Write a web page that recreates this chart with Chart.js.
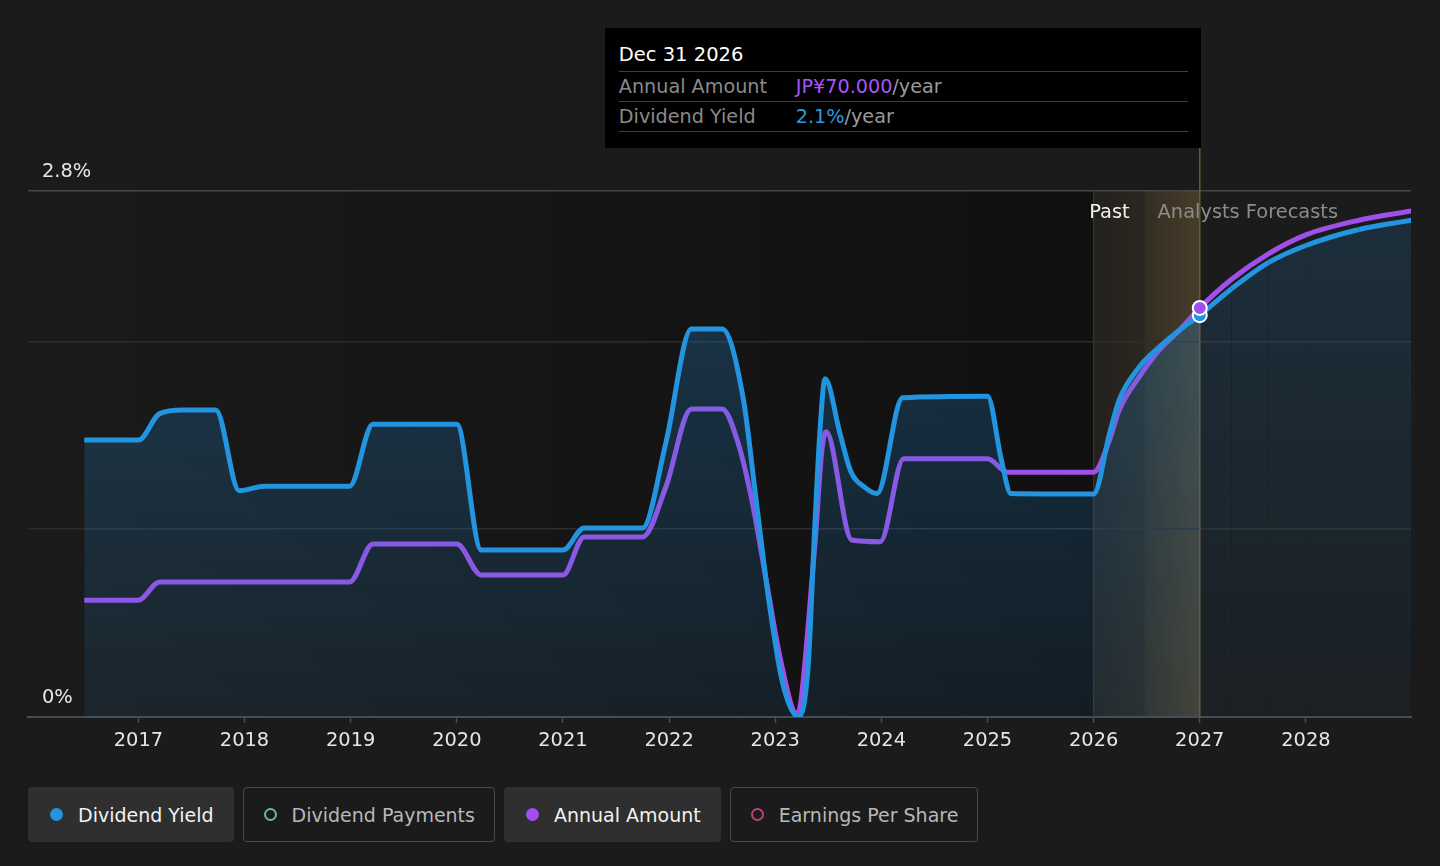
<!DOCTYPE html>
<html>
<head>
<meta charset="utf-8">
<script src="https://cdn.jsdelivr.net/npm/chart.js@4.4.1/dist/chart.umd.min.js"></script>
<style>
  html, body { margin: 0; padding: 0; background: #1b1b1b; width: 1440px; height: 866px; overflow: hidden; font-family: 'DejaVu Sans', sans-serif; }
  #wrap { position: absolute; left: 0; top: 0; width: 1440px; height: 770px; }
  #tip { position: absolute; top: 28px; width: 596px; height: 120px; background: #000; box-sizing: border-box; padding: 0 13px 0 14px; }
  #tip .title { padding-top: 10px; height: 33px; line-height: 33px; color: #fff; font-size: 19.5px; border-bottom: 1px solid #3e3e3e; }
  #tip .row { height: 29px; line-height: 29px; font-size: 19.2px; color: #8a8a8a; border-bottom: 1.5px solid #3e3e3e; white-space: nowrap; }
  #tip .row .lbl { display: inline-block; width: 177px; }
  #tip .row .unit { color: #9a9a9a; }
  #legend { position: absolute; left: 28px; top: 787px; display: flex; gap: 9px; }
  .chip { height: 55px; box-sizing: border-box; display: flex; align-items: center; padding: 0 20px 0 22px; border-radius: 4px; font-size: 19px; }
  .chip.on { background: #2f2f2f; color: #f2f2f2; }
  .chip.off { border: 1.5px solid #4a4a4a; color: #b8b8b8; padding: 0 19px 0 20px; }
  .chip .dot { width: 13px; height: 13px; border-radius: 50%; margin-right: 15px; box-sizing: border-box; }
</style>
</head>
<body>
<div id="wrap"><canvas id="chart"></canvas></div>
<div id="tip">
  <div class="title" id="tip-title"></div>
  <div class="row"><span class="lbl">Annual Amount</span><span id="tip-amount" style="color:#a855f7"></span><span class="unit">/year</span></div>
  <div class="row"><span class="lbl">Dividend Yield</span><span id="tip-yield" style="color:#2d9be3"></span><span class="unit">/year</span></div>
</div>
<div id="legend"></div>
<script>
// Dividend yield (%), x = decimal year
const yieldDates = [2016.49, 2017.00, 2017.20, 2017.42, 2017.73, 2017.95, 2018.19, 2018.99, 2019.21, 2020.00,
  2020.23, 2021.00, 2021.20, 2021.75, 2021.97, 2022.21, 2022.50, 2022.70, 2022.82, 2022.94,
  2023.07, 2023.22, 2023.31, 2023.37, 2023.42, 2023.47, 2023.61, 2023.71, 2023.85, 2023.96,
  2024.20, 2025.00, 2025.13, 2025.22, 2026.00, 2026.15, 2026.24, 2026.43, 2026.62, 2026.81,
  2027.00, 2027.30, 2027.65, 2028.00, 2028.50, 2029.00];
const yieldValues = [1.474, 1.474, 1.615, 1.634, 1.634, 1.205, 1.229, 1.229, 1.559, 1.559,
  0.889, 0.889, 1.006, 1.006, 1.46, 2.065, 2.065, 1.69, 1.155, 0.62,
  0.18, 0.0, 0.27, 0.98, 1.51, 1.80, 1.51, 1.31, 1.22, 1.19,
  1.70, 1.708, 1.37, 1.19, 1.187, 1.51, 1.687, 1.863, 1.97, 2.06,
  2.139, 2.28, 2.42, 2.51, 2.595, 2.645];

// Annual dividend amount (JP¥)
const amountDates = [2016.49, 2017.00, 2017.20, 2018.99, 2019.21, 2020.00, 2020.23, 2021.00, 2021.20, 2021.75,
  2021.97, 2022.21, 2022.50, 2022.65, 2022.78, 2022.92, 2023.05, 2023.20, 2023.37, 2023.44,
  2023.48, 2023.72, 2023.99, 2024.21, 2025.00, 2025.19, 2026.00, 2026.15, 2026.24, 2026.43,
  2026.62, 2026.81, 2027.00, 2027.30, 2027.65, 2028.00, 2028.50, 2029.00];
const amountValues = [20.0, 20.0, 23.1, 23.1, 29.6, 29.6, 24.3, 24.3, 30.8, 30.8,
  39.4, 52.7, 52.7, 46.9, 37.1, 22.9, 9.8, 0.7, 28.6, 45.7,
  48.8, 30.3, 30.0, 44.2, 44.2, 41.9, 41.9, 47.4, 52.5, 58.2,
  62.8, 66.2, 70.0, 74.9, 79.3, 82.5, 85.0, 86.6];

const yearTicks = [2017, 2018, 2019, 2020, 2021, 2022, 2023, 2024, 2025, 2026, 2027, 2028];
const yieldTicks = [0, 1, 2, 2.8];
const yieldLabels = { 0: '0%', 2.8: '2.8%' };

const bandStartYear = 2026.0;
const todayYear = 2026.48;
const hoverYear = 2027.0;
const hoverLabel = 'Dec 31 2026';

const COLORS = {
    yield: '#2394df',
    amount: '#a050ea',
    payments: '#5bc0a8',
    eps: '#c0407a'
};

const FONT = "'DejaVu Sans', sans-serif";

const yieldIdx = yieldDates.indexOf(hoverYear);
const amountIdx = amountDates.indexOf(hoverYear);

const bandsPlugin = {
    id: 'bands',
    beforeDraw(chart) {
        const { ctx, chartArea: a, scales: { x } } = chart;
        const x0 = x.getPixelForValue(bandStartYear);
        const xt = x.getPixelForValue(todayYear);
        const xh = x.getPixelForValue(hoverYear);
        ctx.save();
        // darker past area
        let g = ctx.createLinearGradient(a.left, 0, x0, 0);
        g.addColorStop(0, 'rgba(0,0,0,0)');
        g.addColorStop(1, 'rgba(0,0,0,0.38)');
        ctx.fillStyle = g;
        ctx.fillRect(a.left, a.top, x0 - a.left, a.bottom - a.top);
        // past band up to today
        g = ctx.createLinearGradient(x0, 0, xt, 0);
        g.addColorStop(0, 'rgba(190,150,80,0.05)');
        g.addColorStop(1, 'rgba(190,150,80,0.10)');
        ctx.fillStyle = g;
        ctx.fillRect(x0, a.top, xt - x0, a.bottom - a.top);
        // today -> hover band
        g = ctx.createLinearGradient(xt, 0, xh, 0);
        g.addColorStop(0, 'rgba(190,150,80,0.15)');
        g.addColorStop(1, 'rgba(190,150,80,0.28)');
        ctx.fillStyle = g;
        ctx.fillRect(xt, a.top, xh - xt, a.bottom - a.top);
        ctx.restore();
    },
    beforeDatasetsDraw(chart) {
        const { ctx, chartArea: a, scales: { x } } = chart;
        const x0 = x.getPixelForValue(bandStartYear);
        const xh = x.getPixelForValue(hoverYear);
        ctx.save();
        ctx.lineWidth = 1.2;
        ctx.strokeStyle = '#3a372f';
        ctx.beginPath();
        ctx.moveTo(x0, a.top);
        ctx.lineTo(x0, a.bottom);
        ctx.stroke();
        ctx.lineWidth = 1.5;
        ctx.strokeStyle = '#6a5a3c';
        ctx.beginPath();
        ctx.moveTo(xh, 148);
        ctx.lineTo(xh, a.bottom);
        ctx.stroke();
        ctx.restore();
    },
    afterDatasetsDraw(chart) {
        const { ctx, chartArea: a, scales: { x } } = chart;
        const xt = x.getPixelForValue(todayYear);
        ctx.save();
        ctx.font = '19.4px ' + FONT;
        ctx.textBaseline = 'middle';
        ctx.textAlign = 'right';
        ctx.fillStyle = '#f2f2f2';
        ctx.fillText('Past', xt - 15, a.top + 22);
        ctx.textAlign = 'left';
        ctx.fillStyle = '#8c8c8c';
        ctx.fillText('Analysts Forecasts', xt + 13, a.top + 22);

        // hover points, blue below purple
        const pts = [
            [chart.getDatasetMeta(0).data[yieldIdx], COLORS.yield],
            [chart.getDatasetMeta(1).data[amountIdx], COLORS.amount]
        ];
        pts.forEach(([el, color]) => {
            ctx.beginPath();
            ctx.arc(el.x, el.y, 7, 0, Math.PI * 2);
            ctx.fillStyle = color;
            ctx.fill();
            ctx.lineWidth = 2;
            ctx.strokeStyle = '#ffffff';
            ctx.stroke();
        });
        ctx.restore();

        // tooltip box right edge sits on the hover line
        const tip = document.getElementById('tip');
        tip.style.left = (x.getPixelForValue(hoverYear) - 595) + 'px';
    }
};

function makeFill(chart, top, bottom) {
    const area = chart.chartArea;
    if (!area) return 'rgba(35,130,200,0.15)';
    const g = chart.ctx.createLinearGradient(0, area.top, 0, area.bottom);
    g.addColorStop(0, `rgba(35,130,200,${top})`);
    g.addColorStop(1, `rgba(35,130,200,${bottom})`);
    return g;
}

const ctx = document.getElementById('chart').getContext('2d');
new Chart(ctx, {
    type: 'line',
    data: {
        datasets: [
            {
                label: 'Dividend Yield',
                data: yieldDates.map((d, i) => ({ x: d, y: yieldValues[i] })),
                yAxisID: 'y',
                borderColor: COLORS.yield,
                backgroundColor: (c) => makeFill(c.chart, 0.33, 0.11),
                segment: {
                    // forecast part is dimmer
                    backgroundColor: (c) => c.p0.parsed.x >= hoverYear ? makeFill(c.chart, 0.2, 0.05) : undefined
                },
                borderWidth: 5,
                fill: 'origin',
                cubicInterpolationMode: 'monotone',
                pointRadius: 0,
                order: 1
            },
            {
                label: 'Annual Amount',
                data: amountDates.map((d, i) => ({ x: d, y: amountValues[i] })),
                yAxisID: 'y2',
                borderColor: COLORS.amount,
                backgroundColor: 'transparent',
                borderWidth: 5,
                fill: false,
                cubicInterpolationMode: 'monotone',
                pointRadius: 0,
                order: 2
            }
        ]
    },
    options: {
        responsive: true,
        maintainAspectRatio: false,
        animation: false,
        layout: {
            padding: { left: 0, right: 29, top: 191, bottom: 11.7 }
        },
        plugins: {
            legend: { display: false },
            tooltip: { enabled: false }
        },
        scales: {
            x: {
                type: 'linear',
                min: 2015.96,
                max: 2028.99,
                afterBuildTicks: (s) => { s.ticks = yearTicks.map(v => ({ value: v })); },
                ticks: {
                    color: '#e6e6e6',
                    padding: 6,
                    font: { family: FONT, size: 19.4 },
                    callback: (v) => String(v)
                },
                grid: {
                    display: true,
                    drawOnChartArea: false,
                    drawTicks: true,
                    tickLength: 6,
                    tickColor: '#4a4a4a',
                    tickWidth: 1.5
                },
                border: { color: '#4a4a4a', width: 2 }
            },
            y: {
                position: 'left',
                min: 0,
                max: 2.8,
                afterBuildTicks: (s) => { s.ticks = yieldTicks.map(v => ({ value: v })); },
                ticks: {
                    mirror: true,
                    padding: 14,
                    labelOffset: -19,
                    color: '#e6e6e6',
                    font: { family: FONT, size: 19.4 },
                    callback: (v) => yieldLabels[v] || ''
                },
                grid: {
                    drawTicks: false,
                    lineWidth: 1.5,
                    color: (c) => (c.tick && (c.tick.value === 2.8 || c.tick.value === 0)) ? '#474747' : '#2c2c2c'
                },
                border: { display: false }
            },
            y2: {
                display: false,
                min: 0,
                max: 90
            }
        }
    },
    plugins: [bandsPlugin]
});

// tooltip text from the data at the hover date
document.getElementById('tip-title').textContent = hoverLabel;
document.getElementById('tip-amount').textContent = 'JP¥' + amountValues[amountIdx].toFixed(3);
document.getElementById('tip-yield').textContent = yieldValues[yieldIdx].toFixed(1) + '%';

// legend chips
const legendItems = [
    { label: 'Dividend Yield', color: COLORS.yield, on: true },
    { label: 'Dividend Payments', color: COLORS.payments, on: false },
    { label: 'Annual Amount', color: COLORS.amount, on: true },
    { label: 'Earnings Per Share', color: COLORS.eps, on: false }
];
const legend = document.getElementById('legend');
legendItems.forEach(item => {
    const chip = document.createElement('div');
    chip.className = 'chip ' + (item.on ? 'on' : 'off');
    const dot = item.on
        ? `<span class="dot" style="background:${item.color}"></span>`
        : `<span class="dot" style="border:2px solid ${item.color}"></span>`;
    chip.innerHTML = dot + `<span>${item.label}</span>`;
    legend.appendChild(chip);
});
</script>
</body>
</html>
